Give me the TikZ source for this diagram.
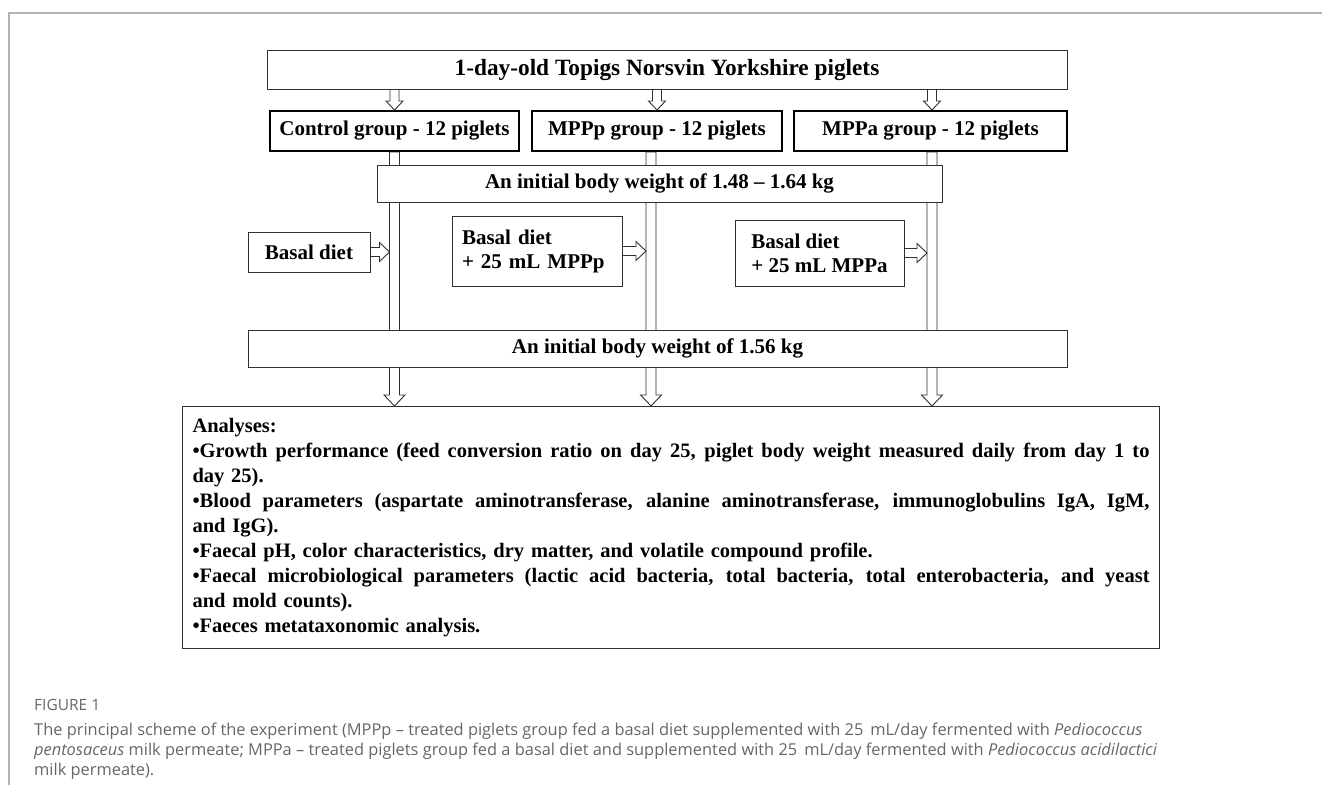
\documentclass[tikz,border=0pt]{standalone}
\usepackage{fontspec}
\setmainfont{Liberation Serif}
\newfontfamily\capfont[Ligatures=TeX]{Open Sans}
\usepackage{tikz}
\usetikzlibrary{calc,backgrounds}
\definecolor{capgray}{HTML}{666666}
\definecolor{framegray}{HTML}{B4B4B4}
\definecolor{linegray}{HTML}{303030}

% hollow block arrows: from, to, half shaft, half head, head length
\newcommand{\blockdown}[5]{%
  \draw[blockarrow] let \p1=(#1), \p2=(#2) in
    (\x1-#3pt,\y1) -- (\x1-#3pt,\y2+#5pt) -- (\x1-#4pt,\y2+#5pt) -- (\x1,\y2)
    -- (\x1+#4pt,\y2+#5pt) -- (\x1+#3pt,\y2+#5pt) -- (\x1+#3pt,\y1) -- cycle;}
\newcommand{\blockright}[5]{%
  \draw[blockarrow] let \p1=(#1), \p2=(#2) in
    (\x1,\y1+#3pt) -- (\x2-#5pt,\y1+#3pt) -- (\x2-#5pt,\y1+#4pt) -- (\x2,\y1)
    -- (\x2-#5pt,\y1-#4pt) -- (\x2-#5pt,\y1-#3pt) -- (\x1,\y1-#3pt) -- cycle;}
\newcommand{\fullline}[1]{\makebox[957pt][s]{\spaceskip=0pt\xspaceskip=0pt\relax #1}}

\begin{document}
\begin{tikzpicture}[x=1pt,y=-1pt,
  box/.style={draw=linegray, line width=1pt, fill=white, inner sep=0pt,
    font=\bfseries\fontsize{21}{24}\selectfont},
  groupbox/.style={box, draw=black, line width=2pt},
  blockarrow/.style={draw=linegray, line width=0.9pt, fill=white, line join=miter},
  caption/.style={text=capgray, inner sep=0pt, align=left}]
\useasboundingbox (0,0) rectangle (1322,785);
\draw[framegray, line width=1.5pt] (1322,13) -- (9,13) -- (9,785);

% flow boxes
\node[box, minimum width=800, minimum height=39,
  font=\bfseries\fontsize{23.3}{26}\selectfont] (piglets) at (667,69.5)
  {1-day-old Topigs Norsvin Yorkshire piglets};
\node[groupbox, minimum width=249, minimum height=40] (ctrl) at (394.5,131) {Control group - 12 piglets};
\node[groupbox, minimum width=250, minimum height=40] (mppp) at (657,131) {MPPp group - 12 piglets};
\node[groupbox, minimum width=273, minimum height=40] (mppa) at (930.5,131) {MPPa group - 12 piglets};
\node[box, minimum width=565, minimum height=37] (initw) at (659.5,183.5) {An initial body weight of 1.48 – 1.64 kg};
\node[box, minimum width=122, minimum height=40] (basal) at (309,252) {Basal diet};
\node[box, minimum width=170, minimum height=70, text width=150, align=left] (dietp) at (537,251) {Basal diet\\+ 25 mL MPPp};
\node[box, minimum width=169, minimum height=66, align=left] (dieta) at (819.5,253) {Basal diet\\+ 25 mL MPPa};
\node[box, minimum width=819, minimum height=37] (finalw) at (657.5,348.5) {An initial body weight of 1.56 kg};
\node[box, anchor=north west, minimum width=977, minimum height=242, text width=957,
  inner xsep=10pt, align=left, font=\bfseries\fontsize{20.5}{25}\selectfont] (anal) at (182,406)
  {Analyses:\\
   \fullline{•Growth performance (feed conversion ratio on day 25, piglet body weight measured daily from day 1 to}\\
   day 25).\\
   \fullline{•Blood parameters (aspartate aminotransferase, alanine aminotransferase, immunoglobulins IgA, IgM,}\\
   and IgG).\\
   •Faecal pH, color characteristics, dry matter, and volatile compound profile.\\
   \fullline{•Faecal microbiological parameters (lactic acid bacteria, total bacteria, total enterobacteria, and yeast}\\
   and mold counts).\\
   •Faeces metataxonomic analysis.};

% arrows
\begin{scope}[on background layer]
\blockdown{ctrl.north |- piglets.south}{ctrl.north}{4.5}{8.5}{9}
\blockdown{mppp.north |- piglets.south}{mppp.north}{4.5}{8.5}{9}
\blockdown{[xshift=1.5pt]mppa.north |- piglets.south}{mppa.north}{4.5}{8.5}{9}
\blockdown{ctrl.south}{ctrl.south |- anal.north}{5}{10.5}{11}
\blockdown{[xshift=-6pt]mppp.south}{mppp.south |- anal.north}{5}{10.5}{11}
\blockdown{[xshift=1.5pt]mppa.south}{mppa.south |- anal.north}{5}{10.5}{11}
\end{scope}
\blockright{basal.east}{[xshift=-5pt]ctrl.south}{4.5}{9.5}{10}
\blockright{dietp.east}{[xshift=-11pt]mppp.south}{4.5}{9.5}{10}
\blockright{dieta.east}{[xshift=-3.5pt]mppa.south}{4.5}{9.5}{10}

% caption
\node[caption, anchor=west, font=\capfont\fontsize{15.5}{18}\selectfont] (figlabel) at (34,705) {FIGURE 1};
\node[caption, anchor=north west, font=\capfont\fontsize{16.4}{20}\selectfont] (captext) at (34,723)
  {The principal scheme of the experiment (MPPp – treated piglets group fed a basal diet supplemented with 25\,~mL/day fermented with \textit{Pediococcus}\\
   \textit{pentosaceus} milk permeate; MPPa – treated piglets group fed a basal diet and supplemented with 25\,~mL/day fermented with \textit{Pediococcus acidilactici}\\
   milk permeate).};
\end{tikzpicture}
\end{document}
